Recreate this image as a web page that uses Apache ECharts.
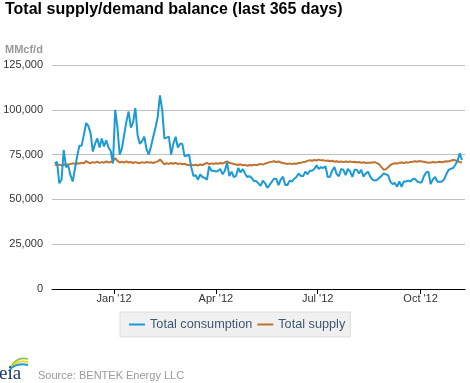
<!DOCTYPE html>
<html>
<head>
<meta charset="utf-8">
<script src="https://cdn.jsdelivr.net/npm/echarts@6/dist/echarts.min.js"></script>
<style>
html,body{margin:0;padding:0;background:#fff;}
#chart{width:470px;height:383px;}
</style>
</head>
<body>
<div id="chart"></div>
<script>
// ---- DATA ----
const titleText = "Total supply/demand balance (last 365 days)";
const unitLabel = "MMcf/d";
const sourceText = "Source: BENTEK Energy LLC";
const seriesNames = ["Total consumption", "Total supply"];
// readings every 2 days, starting 9 Nov 2011 (thousand MMcf/d)
const startDate = [2011, 10, 9];
const stepDays = 2;
const consumption = [
 70.1,71.0,59.0,60.8,77.5,68.0,69.0,63.5,60.0,67.0,74.0,
 80.0,80.0,86.0,92.5,91.0,87.0,76.7,81.0,84.0,79.0,
 84.0,79.5,83.0,79.0,77.0,70.0,100.0,90.0,75.0,78.5,
 86.0,93.4,99.0,90.0,93.0,101.0,86.0,81.0,82.5,85.0,
 78.0,75.0,79.5,85.0,90.0,96.0,108.0,100.0,84.0,84.5,
 85.0,75.0,81.0,85.0,79.0,81.0,81.0,74.0,74.5,75.0,
 68.0,63.0,63.5,61.0,64.0,62.5,62.0,61.0,68.5,66.0,
 66.0,65.5,66.0,67.0,64.0,66.0,70.5,63.0,65.5,62.5,
 63.0,67.5,65.0,67.0,64.5,62.5,63.0,62.0,60.2,60.2,
 59.0,57.5,60.5,59.0,56.5,58.0,59.9,61.5,61.5,58.0,
 61.0,62.7,58.0,58.0,60.5,59.9,61.5,62.5,64.5,63.0,
 63.0,65.5,64.0,66.0,66.0,67.0,69.0,67.0,68.0,67.5,
 68.5,62.5,62.7,66.0,68.0,64.0,63.0,67.0,66.5,63.5,
 67.0,65.7,62.5,66.5,66.5,64.5,66.5,62.7,64.5,65.5,
 62.7,61.0,60.5,60.8,62.0,63.0,64.5,64.0,63.5,59.9,
 58.5,59.2,57.1,60.0,57.0,60.0,60.0,60.5,60.0,61.2,
 61.5,60.0,59.5,59.5,63.0,65.0,65.5,58.5,61.2,62.5,
 59.9,59.9,59.9,61.2,64.0,66.4,67.0,67.5,69.2,71.5,75.7,72.0
];
const supply = [
 69.5,69.2,69.4,69.0,69.3,69.6,69.4,69.8,70.1,69.9,70.2,
 70.0,70.4,70.1,71.4,70.6,70.2,70.8,70.5,71.0,70.4,
 70.8,70.5,71.2,70.6,70.9,71.4,73.0,71.5,70.6,71.0,
 70.5,71.2,70.6,70.9,70.3,70.8,70.5,70.2,70.8,70.4,
 70.9,70.5,70.7,70.3,70.8,71.2,72.3,71.0,69.5,70.2,
 69.8,70.3,69.9,70.4,69.7,70.1,69.6,69.9,69.3,69.1,
 69.4,69.0,69.3,68.9,69.5,69.2,69.8,70.3,69.7,70.1,
 69.8,70.2,69.9,70.3,70.0,70.6,71.2,70.4,70.1,69.8,
 69.5,69.2,69.6,69.0,69.3,68.8,69.2,68.9,69.4,69.1,
 69.5,69.8,69.4,70.0,70.3,70.8,71.0,71.3,70.9,71.2,
 70.6,70.3,70.0,69.8,70.1,69.7,70.0,69.9,70.3,70.5,
 70.8,71.0,71.5,71.9,71.6,72.0,71.7,72.2,71.8,71.9,
 71.5,71.7,71.3,71.6,71.0,71.3,70.9,71.2,70.8,71.1,
 70.9,71.2,70.8,71.0,70.6,70.9,70.4,70.7,70.3,70.5,
 70.4,70.6,70.8,70.2,69.5,68.0,66.6,66.8,67.9,69.2,
 69.8,70.2,70.0,70.4,70.6,70.3,70.7,70.5,70.9,71.0,
 71.3,71.0,71.4,71.2,71.0,70.7,70.4,70.6,70.9,70.6,
 70.8,71.0,70.7,71.0,71.3,71.2,71.6,72.0,71.8,71.4,70.9,70.6
];
const xTickDates = [[2012,0,1],[2012,3,1],[2012,6,1],[2012,9,1]];
const yTicks = [0, 25000, 50000, 75000, 100000, 125000];
const colors = ["#1b9ad6", "#c0722f"];

// ---- BUILD ----
const DAY = 86400000;
const t0 = Date.UTC(startDate[0], startDate[1], startDate[2]);
function toPairs(arr){ return arr.map((v,i)=>[t0 + i*stepDays*DAY, v*1000]); }
const tickTs = xTickDates.map(d=>Date.UTC(d[0],d[1],d[2]));
const MONTHS = ["Jan","Feb","Mar","Apr","May","Jun","Jul","Aug","Sep","Oct","Nov","Dec"];
function fmtDate(v){ const d=new Date(v); return MONTHS[d.getUTCMonth()]+" '"+String(d.getUTCFullYear()).slice(2); }
function fmtNum(v){ return v.toString().replace(/\B(?=(\d{3})+(?!\d))/g, ","); }

const FONT = 'Liberation Sans, Arial, sans-serif';
const chart = echarts.init(document.getElementById('chart'), null, {renderer:'canvas'});
chart.setOption({
  animation:false,
  backgroundColor:'#fff',
  textStyle:{fontFamily:FONT},
  title:[
    {text:titleText, left:5, top:2, padding:0, textStyle:{fontSize:16, fontWeight:'bold', color:'#000', fontFamily:FONT}},
    {text:unitLabel, left:5, top:44, padding:0, textStyle:{fontSize:11, fontWeight:'bold', color:'#999', fontFamily:FONT}}
  ],
  grid:{left:52, right:5, top:65, bottom:94, containLabel:false},
  xAxis:{
    type:'value',
    min:Date.UTC(2011,10,6,12), max:Date.UTC(2012,10,9,17),
    axisLine:{show:true, lineStyle:{color:'#000', width:1}},
    axisTick:{show:true, customValues:tickTs, length:5, lineStyle:{color:'#000'}},
    axisLabel:{customValues:tickTs, formatter:fmtDate, color:'#333', fontSize:11, margin:4},
    splitLine:{show:false}
  },
  yAxis:{
    type:'value', min:yTicks[0], max:yTicks[yTicks.length-1], interval:yTicks[1]-yTicks[0],
    axisLine:{show:false}, axisTick:{show:false},
    axisLabel:{formatter:fmtNum, color:'#333', fontSize:11, margin:9},
    splitLine:{lineStyle:{color:'#c0c0c0', width:1}}
  },
  legend:{
    left:120, top:312, icon:'rect', itemWidth:16, itemHeight:2, itemGap:5,
    padding:[6,5,6,9], backgroundColor:'#f0f0f0', borderColor:'#dcdcdc', borderWidth:1,
    textStyle:{color:'#3e576f', fontSize:12.7, fontFamily:FONT}
  },
  series:[
    {name:seriesNames[0], type:'line', data:toPairs(consumption), showSymbol:false, color:colors[0], lineStyle:{width:2, color:colors[0]}, z:3},
    {name:seriesNames[1], type:'line', data:toPairs(supply), showSymbol:false, color:colors[1], lineStyle:{width:2, color:colors[1]}, z:2}
  ],
  graphic:[
    {type:'text', left:38, top:370, style:{text:sourceText, fill:'#999', fontSize:11, fontFamily:FONT}},
    {type:'bezierCurve', shape:{x1:11, y1:367, cpx1:17, cpy1:356, x2:28, y2:359}, style:{stroke:'#8cc63f', lineWidth:1.8, fill:null}},
    {type:'bezierCurve', shape:{x1:10, y1:369, cpx1:16, cpy1:359, x2:28, y2:362}, style:{stroke:'#f5d31c', lineWidth:1.8, fill:null}},
    {type:'bezierCurve', shape:{x1:9, y1:371, cpx1:15, cpy1:362, x2:28, y2:365}, style:{stroke:'#1e9ad6', lineWidth:1.8, fill:null}},
    {type:'text', x:-1, y:384, style:{text:'eia', fill:'#1c3c6c', fontSize:19, verticalAlign:'bottom', fontFamily:'Liberation Serif, DejaVu Serif, serif'}}
  ]
});
</script>
</body>
</html>
